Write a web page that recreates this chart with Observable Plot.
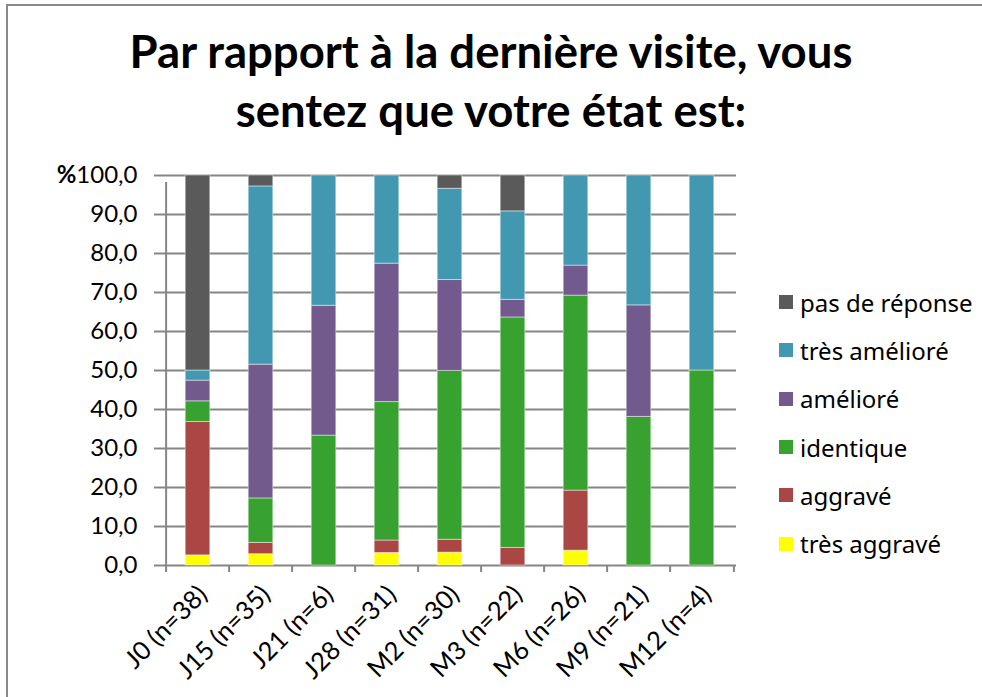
<!DOCTYPE html>
<html>
<head>
<meta charset="utf-8">
<script src="https://cdn.jsdelivr.net/npm/d3@7"></script>
<script src="https://cdn.jsdelivr.net/npm/@observablehq/plot@0.6"></script>
<style>
  html, body { margin: 0; padding: 0; background: #fff; }
  body { width: 982px; height: 697px; position: relative; overflow: hidden; font-family: Lato, "Open Sans", sans-serif; color: #000; }
  #frame { position: absolute; left: 6px; top: 4px; width: 1000px; height: 800px; border-left: 2px solid #898989; border-top: 2px solid #898989; }
  #title { position: absolute; left: 0; width: 982px; top: 21px; text-align: center; font-family: Lato, sans-serif; font-weight: 700; font-size: 45.5px; line-height: 59px; }
  #chart { position: absolute; left: 0; top: 140px; }
  #legend { position: absolute; left: 779px; top: 278px; font-family: Lato, sans-serif; font-size: 24px; color: #000; }
  #legend .lg-swatch { height: 48.3px !important; padding: 0 !important; margin: 0 !important; display: flex !important; align-items: center !important; }
  #legend .lg-swatch > svg { margin-right: 7px !important; }
  #legend div { font-size: 24px; }
</style>
</head>
<body>
<div id="frame"></div>
<div id="title">Par rapport à la dernière visite, vous<br>sentez que votre état est:</div>
<div id="chart"></div>
<div id="legend"></div>
<script>
const categories = ["J0 (n=38)", "J15 (n=35)", "J21 (n=6)", "J28 (n=31)", "M2 (n=30)", "M3 (n=22)", "M6 (n=26)", "M9 (n=21)", "M12 (n=4)"];
const levels = ["très aggravé", "aggravé", "identique", "amélioré", "très amélioré", "pas de réponse"];
const colors = ["#ffff00", "#aa4644", "#37a22f", "#725a8e", "#4298b0", "#5a5a5a"];

const tresAggrave   = [2.6, 2.9, 0, 3.2, 3.3, 0, 3.8, 0, 0];
const aggrave       = [34.2, 2.9, 0, 3.2, 3.3, 4.5, 15.4, 0, 0];
const identique     = [5.3, 11.4, 33.3, 35.5, 43.3, 59.1, 50.0, 38.1, 50.0];
const ameliore      = [5.3, 34.3, 33.3, 35.5, 23.3, 4.5, 7.7, 28.6, 0];
const tresAmeliore  = [2.6, 45.7, 33.4, 22.6, 23.4, 22.7, 23.1, 33.3, 50.0];
const pasDeReponse  = [50.0, 2.8, 0, 0, 3.4, 9.2, 0, 0, 0];

const yTicks = [0, 10, 20, 30, 40, 50, 60, 70, 80, 90, 100];
const yUnit = "%";

const series = [tresAggrave, aggrave, identique, ameliore, tresAmeliore, pasDeReponse];
const data = [];
categories.forEach((c, i) => {
  levels.forEach((l, j) => data.push({cat: c, level: l, value: series[j][i]}));
});

const W = 760, H = 557, mL = 162, mR = 24, mT = 35, mB = 132;
const step = (W - mL - mR) / categories.length;
const gridColor = "#868686";
const fs = 24;

const plot = Plot.plot({
  width: W, height: H,
  marginLeft: mL, marginRight: mR, marginTop: mT, marginBottom: mB,
  style: {fontFamily: "Lato, sans-serif", fontSize: fs + "px", color: "#000", background: "transparent", overflow: "visible"},
  x: {domain: categories, padding: 0},
  y: {domain: [0, 100]},
  color: {domain: levels, range: colors},
  marks: [
    Plot.gridY(yTicks, {stroke: gridColor, strokeOpacity: 1, strokeWidth: 2}),
    Plot.barY(data, {x: "cat", y: "value", fill: "level", insetLeft: 19.2, insetRight: 19.2, stroke: "#ffffff", strokeOpacity: 0.45, strokeWidth: 1}),
    Plot.axisY(yTicks, {tickSize: 8, tickPadding: 17, stroke: gridColor, strokeWidth: 2, tickFormat: d => d3.format(".1f")(d).replace(".", ","), fontSize: fs, label: null, fill: "#000"}),
    Plot.ruleX([categories[0]], {dx: -step / 2, y1: 0, y2: 100, insetBottom: -7, stroke: gridColor, strokeWidth: 2}),
    Plot.ruleX(categories, {dx: -step / 2, y1: 0, y2: 0, insetBottom: -7, stroke: gridColor, strokeWidth: 2}),
    Plot.ruleX([categories[categories.length - 1]], {dx: step / 2, y1: 0, y2: 0, insetBottom: -7, stroke: gridColor, strokeWidth: 2}),
    Plot.axisX({tickSize: 0, tickRotate: -45, tickPadding: 25, dx: 5, fontSize: 25.5, label: null, fill: "#000"})
  ]
});
document.getElementById("chart").appendChild(plot);

// bold unit sign in front of the top tick label
d3.select(plot).selectAll("text").filter(function () { return this.textContent === "100,0"; })
  .each(function () {
    const t = d3.select(this);
    t.text("");
    t.append("tspan").attr("font-weight", "bold").text(yUnit);
    t.append("tspan").text("100,0");
  });

const legend = Plot.legend({
  color: {domain: levels.slice().reverse(), range: colors.slice().reverse()},
  legend: "swatches",
  columns: 1,
  swatchSize: 14,
  className: "lg"
});
document.getElementById("legend").appendChild(legend);
</script>
</body>
</html>
